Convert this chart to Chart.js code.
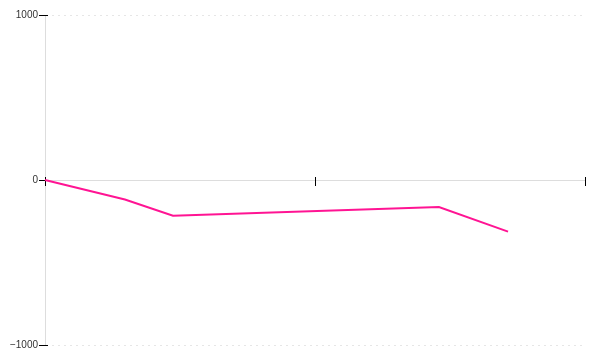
<!DOCTYPE html>
<html>
<head>
<meta charset="utf-8">
<script src="https://cdn.jsdelivr.net/npm/chart.js@4.4.0/dist/chart.umd.min.js"></script>
<style>
  html, body { margin: 0; padding: 0; background: #fff; }
  #wrap { width: 600px; height: 360px; }
</style>
</head>
<body>
<div id="wrap"><canvas id="chart"></canvas></div>
<script>
// values
const xValues = [0, 0.296, 0.474, 1.459, 1.715];
const yValues = [0, -118, -216, -164, -313];
const xTicks = [0, 1, 2];
const yTicks = [-1000, 0, 1000];

const points = xValues.map((x, i) => ({ x: x, y: yValues[i] }));

// black tick marks that cross the axis lines
const crossTicks = {
    id: 'crossTicks',
    beforeDatasetsDraw(chart) {
        const ctx = chart.ctx;
        const xs = chart.scales.x;
        const ys = chart.scales.y;
        const y0 = ys.getPixelForValue(0);
        const left = chart.chartArea.left;
        ctx.save();
        ctx.strokeStyle = '#000';
        ctx.lineWidth = 1;
        ctx.beginPath();
        yTicks.forEach(v => {
            const py = Math.round(ys.getPixelForValue(v)) + 0.5;
            ctx.moveTo(left - 6, py);
            ctx.lineTo(left + 3, py);
        });
        xTicks.forEach(v => {
            const px = Math.round(xs.getPixelForValue(v)) + 0.5;
            ctx.moveTo(px, y0 - 3);
            ctx.lineTo(px, y0 + 6);
        });
        ctx.stroke();
        ctx.restore();
    }
};

new Chart(document.getElementById('chart'), {
    type: 'line',
    data: {
        datasets: [{
            data: points,
            borderColor: '#ff1493',
            borderWidth: 2,
            pointRadius: 0,
            tension: 0,
            fill: false,
            clip: false
        }]
    },
    options: {
        responsive: true,
        maintainAspectRatio: false,
        animation: false,
        layout: { padding: { top: 15, bottom: 15, right: 15, left: 0 } },
        plugins: { legend: { display: false }, tooltip: { enabled: false } },
        scales: {
            x: {
                type: 'linear',
                min: 0,
                max: 2,
                position: { y: 0 },
                afterFit(scale) { scale.height = 0; },
                afterBuildTicks(scale) { scale.ticks = xTicks.map(v => ({ value: v })); },
                ticks: { display: false },
                grid: { display: false, drawTicks: false },
                border: { display: true, color: '#dddddd', width: 1 }
            },
            y: {
                min: -1000,
                max: 1000,
                afterFit(scale) { scale.width = 45; },
                afterBuildTicks(scale) { scale.ticks = yTicks.map(v => ({ value: v })); },
                ticks: {
                    padding: 7,
                    color: '#333',
                    font: { family: 'Liberation Sans', size: 10 },
                    callback: v => (v < 0 ? '\u2212' + Math.abs(v) : String(v))
                },
                grid: { color: '#e6e6e6', drawTicks: false, lineWidth: 1 },
                border: { display: true, color: '#dddddd', width: 1, dash: [2, 4] }
            }
        }
    },
    plugins: [crossTicks]
});
</script>
</body>
</html>
